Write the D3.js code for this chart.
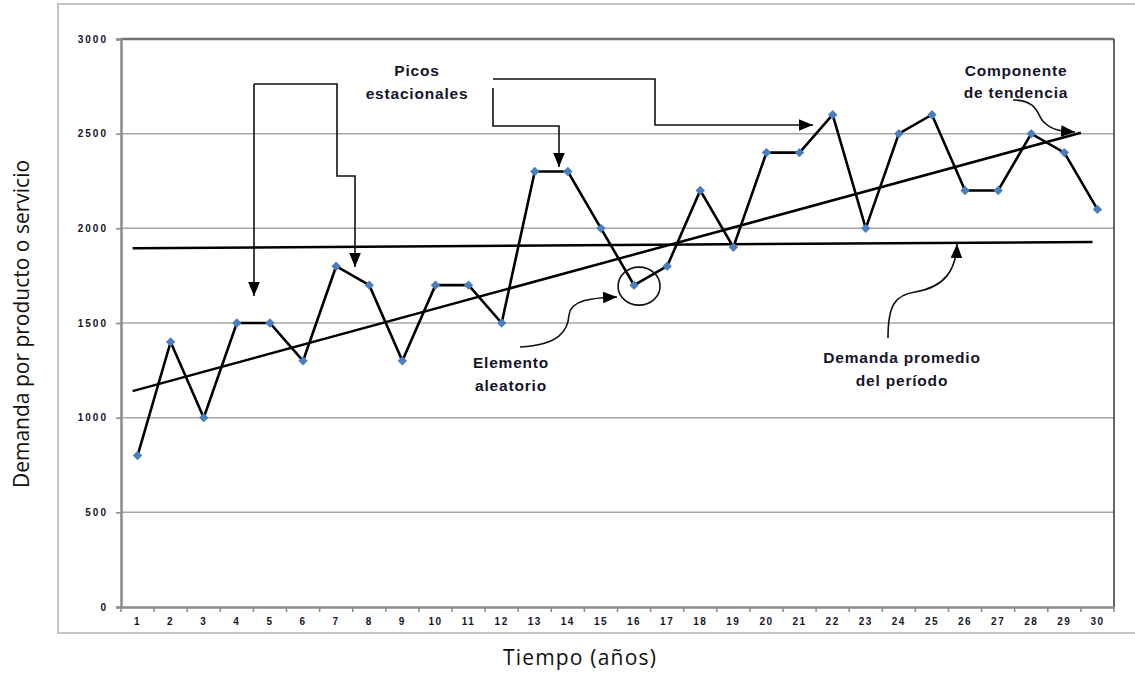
<!DOCTYPE html>
<html>
<head>
<meta charset="utf-8">
<script src="https://cdn.jsdelivr.net/npm/d3@7"></script>
<style>
  html, body { margin: 0; padding: 0; background: #fff; }
  svg { display: block; }
</style>
</head>
<body>
<svg id="chart" width="1135" height="673"></svg>
<script>
// Periods (years) and demand observed in each one
const periods = d3.range(1, 31);
const demand = [800, 1400, 1000, 1500, 1500, 1300, 1800, 1700, 1300, 1700,
                1700, 1500, 2300, 2300, 2000, 1700, 1800, 2200, 1900, 2400,
                2400, 2600, 2000, 2500, 2600, 2200, 2200, 2500, 2400, 2100];
const yTicks = [0, 500, 1000, 1500, 2000, 2500, 3000];

// Trend component and average demand, as [period, value] end points
const trendLine = [[0.85, 1140], [29.5, 2505]];
const averageLine = [[0.85, 1895], [29.85, 1928]];

const svg = d3.select("#chart");
const plot = { left: 121, right: 1114, top: 39, bottom: 607 };

const x = d3.scaleBand().domain(periods).range([plot.left, plot.right]);
const xl = d3.scaleLinear().domain([0.5, 30.5]).range([plot.left, plot.right]);
const y = d3.scaleLinear().domain([0, 3000]).range([plot.bottom, plot.top]);

const labelColor = "#15152a";

// arrowhead marker
const defs = svg.append("defs");
defs.append("marker")
  .attr("id", "arrow")
  .attr("viewBox", "0 0 12 10")
  .attr("refX", 12).attr("refY", 5)
  .attr("markerUnits", "userSpaceOnUse")
  .attr("markerWidth", 14).attr("markerHeight", 12)
  .attr("orient", "auto")
  .append("path").attr("d", "M0,0 L12,5 L0,10 Z").attr("fill", "#000");

// outer chart frame
svg.append("rect")
  .attr("x", 58).attr("y", 4).attr("width", 1100).attr("height", 629)
  .attr("fill", "none").attr("stroke", "#c4c4c4").attr("stroke-width", 2);

// horizontal gridlines
svg.append("g").selectAll("line")
  .data(yTicks.filter(v => v > 0 && v < 3000))
  .join("line")
  .attr("x1", plot.left).attr("x2", plot.right)
  .attr("y1", d => y(d)).attr("y2", d => y(d))
  .attr("stroke", "#a8a8a8").attr("stroke-width", 1.5);

// plot area border (top and right)
svg.append("line")
  .attr("x1", plot.left).attr("x2", plot.right)
  .attr("y1", plot.top).attr("y2", plot.top)
  .attr("stroke", "#707070").attr("stroke-width", 2.5);
svg.append("line")
  .attr("x1", plot.right).attr("x2", plot.right)
  .attr("y1", plot.top).attr("y2", plot.bottom)
  .attr("stroke", "#333").attr("stroke-width", 1.5);

// Y axis
const yAxis = svg.append("g")
  .attr("transform", `translate(${plot.left},0)`)
  .call(d3.axisLeft(y).tickValues(yTicks).tickSize(5).tickPadding(8).tickFormat(d3.format("d")));
yAxis.select(".domain").attr("stroke", "#8a8a8a").attr("stroke-width", 2.5);
yAxis.selectAll(".tick line").attr("stroke", "#8a8a8a").attr("stroke-width", 1.5);
yAxis.selectAll(".tick text")
  .attr("font-family", "Liberation Sans, Arial, sans-serif")
  .attr("font-size", 10).attr("font-weight", "bold")
  .attr("letter-spacing", 2).attr("fill", labelColor);

// X axis
const xAxis = svg.append("g")
  .attr("transform", `translate(0,${plot.bottom})`)
  .call(d3.axisBottom(x).tickSize(0).tickPadding(11).tickSizeOuter(0));
xAxis.select(".domain").attr("stroke", "#8a8a8a").attr("stroke-width", 2.5);
xAxis.selectAll(".tick text")
  .attr("font-family", "Liberation Sans, Arial, sans-serif")
  .attr("font-size", 10).attr("font-weight", "bold")
  .attr("letter-spacing", 1.5).attr("fill", labelColor);
// tick marks at period boundaries
xAxis.append("g").selectAll("line")
  .data(d3.range(periods.length + 1))
  .join("line")
  .attr("x1", i => xl(i + 0.5)).attr("x2", i => xl(i + 0.5))
  .attr("y1", 0).attr("y2", 5)
  .attr("stroke", "#8a8a8a").attr("stroke-width", 1.5);

// Axis titles
svg.append("text")
  .attr("transform", `translate(29,${(160 + 488) / 2}) rotate(-90)`)
  .attr("text-anchor", "middle")
  .attr("font-family", "Open Sans, sans-serif").attr("font-size", 21)
  .attr("fill", "#111")
  .text("Demanda por producto o servicio");
svg.append("text")
  .attr("x", 580).attr("y", 665)
  .attr("text-anchor", "middle")
  .attr("font-family", "Open Sans, sans-serif").attr("font-size", 21)
  .attr("letter-spacing", 1.2)
  .attr("fill", "#111")
  .text("Tiempo (años)");

// Average demand and trend lines
const lineL = d3.line().x(d => xl(d[0])).y(d => y(d[1]));
svg.append("path").attr("d", lineL(averageLine))
  .attr("fill", "none").attr("stroke", "#000").attr("stroke-width", 2.5);
svg.append("path").attr("d", lineL(trendLine))
  .attr("fill", "none").attr("stroke", "#000").attr("stroke-width", 2.5);

// Demand series
const series = periods.map((p, i) => [p, demand[i]]);
svg.append("path").attr("d", lineL(series))
  .attr("fill", "none").attr("stroke", "#000").attr("stroke-width", 2.6)
  .attr("stroke-linejoin", "miter");
svg.append("g").selectAll("path")
  .data(series)
  .join("path")
  .attr("d", d3.symbol(d3.symbolSquare, 44))
  .attr("transform", d => `translate(${xl(d[0])},${y(d[1])}) rotate(45)`)
  .attr("fill", "#4a7ebf");

// Annotation arrows
const ann = svg.append("g").attr("fill", "none").attr("stroke", "#111").attr("stroke-width", 1.6);
// seasonal peaks: elbow connectors
ann.append("path").attr("d", "M254,84 L254,296").attr("marker-end", "url(#arrow)");
ann.append("path").attr("d", "M254,84 L337,84 L337,176 L355,176 L355,267").attr("marker-end", "url(#arrow)");
ann.append("path").attr("d", "M493,88 L493,126 L559,126 L559,167").attr("marker-end", "url(#arrow)");
ann.append("path").attr("d", "M493,79 L655,79 L655,125 L813,125").attr("marker-end", "url(#arrow)");
// trend component: curved arrow
ann.append("path").attr("d", "M1013,100 C1040,100 1037,118 1045,123 C1052,130 1060,131 1075,132").attr("marker-end", "url(#arrow)");
// random element: S-curve arrow and circle
ann.append("path").attr("d", "M520,347 C560,345 568,330 569,315 C571,300 590,298 617,297").attr("marker-end", "url(#arrow)");
ann.append("ellipse")
  .attr("cx", xl(16) + 5).attr("cy", y(demand[15]) + 1)
  .attr("rx", 21).attr("ry", 19);
// average demand: curved arrow
ann.append("path").attr("d", "M888,338 C888,305 895,295 915,292 C945,287 956,270 957,244").attr("marker-end", "url(#arrow)");

// Annotation labels
const notes = [
  { x: 417, y: [76, 99], lines: ["Picos", "estacionales"] },
  { x: 1016, y: [76, 98], lines: ["Componente", "de tendencia"] },
  { x: 511, y: [368, 391], lines: ["Elemento", "aleatorio"] },
  { x: 902, y: [363, 386], lines: ["Demanda promedio", "del período"] }
];
const noteG = svg.append("g")
  .attr("font-family", "Liberation Sans, Arial, sans-serif")
  .attr("font-size", 15.5).attr("font-weight", "bold")
  .attr("letter-spacing", 0.8)
  .attr("fill", labelColor).attr("text-anchor", "middle");
notes.forEach(n => {
  n.lines.forEach((t, i) => {
    noteG.append("text").attr("x", n.x).attr("y", n.y[i]).text(t);
  });
});
</script>
</body>
</html>
